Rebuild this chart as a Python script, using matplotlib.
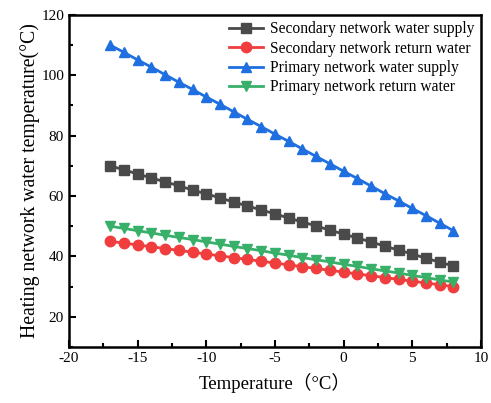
import matplotlib
matplotlib.use("Agg")
import matplotlib.pyplot as plt
from matplotlib.ticker import MultipleLocator

temps = list(range(-17, 9))
sec_supply = [70.0, 68.7, 67.3, 66.0, 64.7, 63.4, 62.0, 60.7, 59.4, 58.0, 56.7, 55.4, 54.1,
              52.7, 51.4, 50.1, 48.7, 47.4, 46.1, 44.8, 43.4, 42.1, 40.8, 39.4, 38.1, 36.8]
sec_return = [45.0, 44.4, 43.8, 43.2, 42.6, 42.0, 41.4, 40.8, 40.2, 39.6, 39.0, 38.4, 37.8,
              37.2, 36.6, 36.0, 35.4, 34.8, 34.2, 33.6, 33.0, 32.4, 31.8, 31.2, 30.6, 30.0]
pri_supply = [110.0, 107.6, 105.1, 102.7, 100.2, 97.7, 95.3, 92.8, 90.4, 87.9, 85.4, 83.0, 80.5,
              78.1, 75.6, 73.1, 70.7, 68.2, 65.8, 63.3, 60.8, 58.4, 55.9, 53.5, 51.0, 48.5]
pri_return = [50.0, 49.3, 48.5, 47.8, 47.0, 46.3, 45.6, 44.8, 44.1, 43.3, 42.6, 41.9, 41.1,
              40.4, 39.6, 38.9, 38.2, 37.4, 36.7, 35.9, 35.2, 34.5, 33.7, 33.0, 32.2, 31.5]
labels = ["Secondary network water supply", "Secondary network return water",
          "Primary network water supply", "Primary network return water"]

plt.rcParams['font.family'] = ['Liberation Serif', 'Noto Sans CJK SC']
plt.rcParams['axes.unicode_minus'] = False

fig = plt.figure(figsize=(4.91, 4.03), dpi=100)
ax = fig.add_axes([0.1405, 0.139, 0.839, 0.824])

series = [
    (sec_supply, '#4a4a4a', 's'),
    (sec_return, '#f03e3e', 'o'),
    (pri_supply, '#1f6fe0', '^'),
    (pri_return, '#38b06a', 'v'),
]
for (vals, c, m), lab in zip(series, labels):
    ax.plot(temps, vals, color=c, marker=m, markersize=7.5, linewidth=2, label=lab)

ax.set_xlim(-20, 10)
ax.set_ylim(10, 120)
ax.xaxis.set_major_locator(MultipleLocator(5))
ax.xaxis.set_minor_locator(MultipleLocator(2.5))
ax.yaxis.set_major_locator(MultipleLocator(20))
ax.yaxis.set_minor_locator(MultipleLocator(10))
ax.set_yticks([20, 40, 60, 80, 100, 120])
ax.tick_params(which='both', direction='in', top=False, right=False, labelsize=11, width=1.5)
ax.tick_params(which='major', length=5)
ax.tick_params(which='minor', length=3)
for s in ax.spines.values():
    s.set_linewidth(1.8)

ax.set_xlabel("Temperature（°C）", fontsize=13.5, labelpad=6)
ax.set_ylabel("Heating network water temperature(°C)", fontsize=14.2, labelpad=1)

leg = ax.legend(loc='upper right', fontsize=11.2, frameon=False,
                borderaxespad=0, labelspacing=0.22, handlelength=2.2,
                handletextpad=0.45, borderpad=0.4)

fig.savefig("out.png", dpi=100)
